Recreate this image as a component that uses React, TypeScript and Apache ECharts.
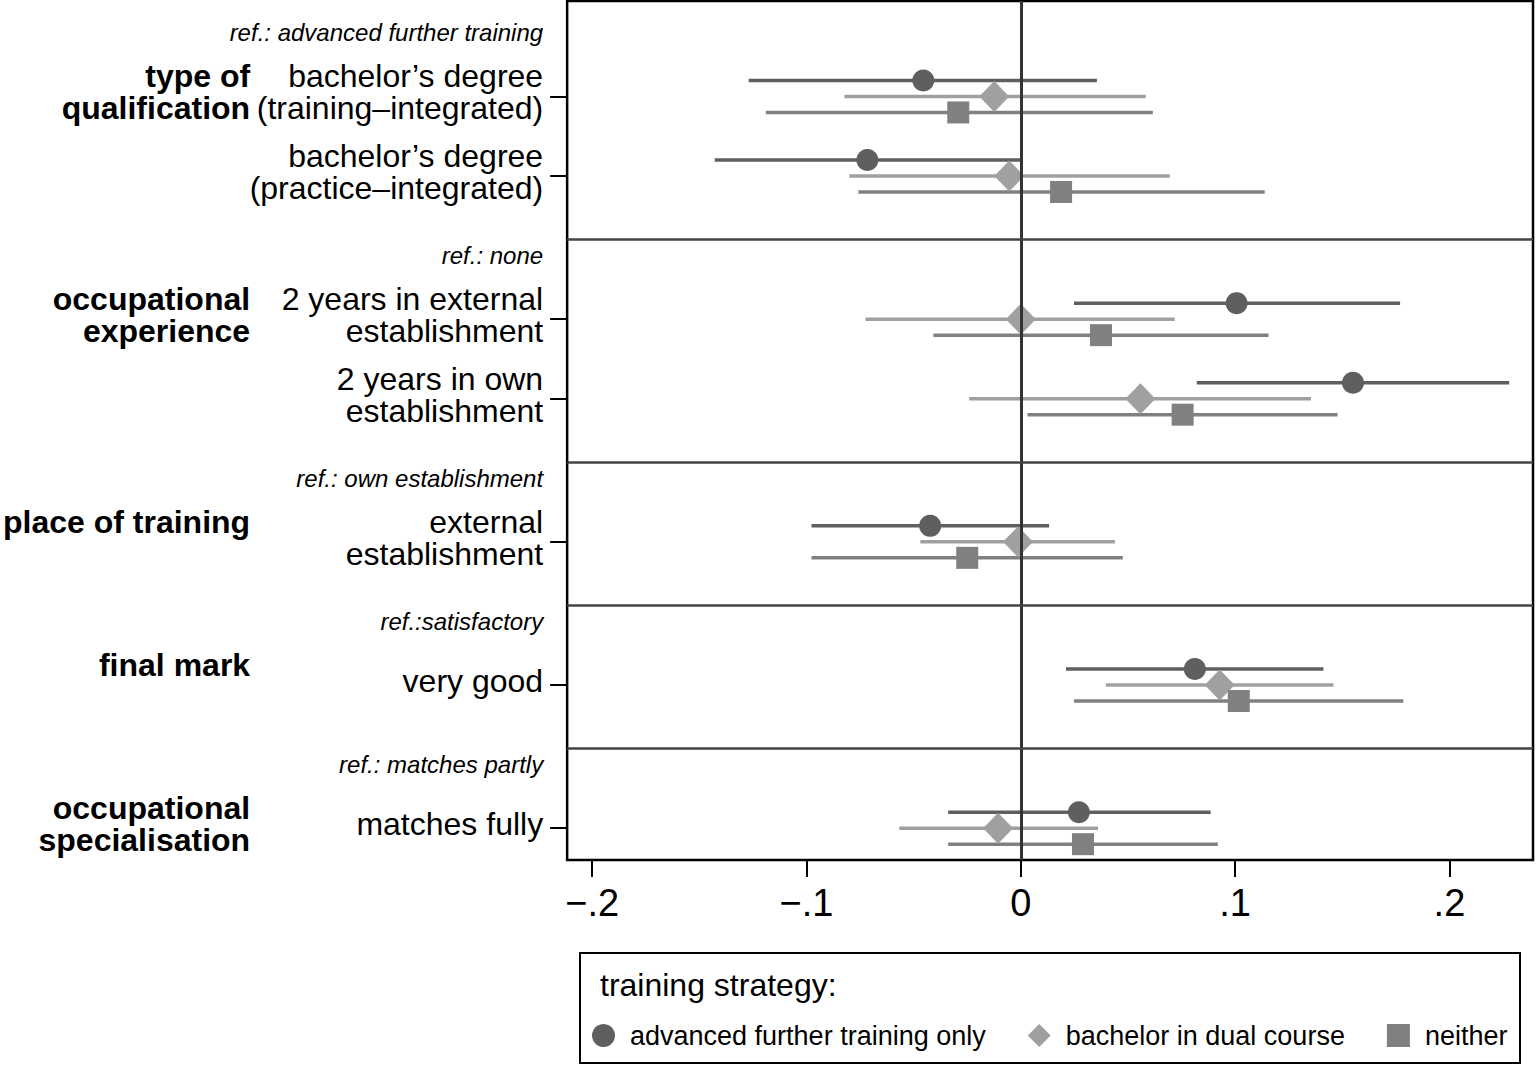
import React, { useEffect, useRef } from "react";
import * as echarts from "echarts";

const FONT = "'Liberation Sans', Arial, Helvetica, sans-serif";

// y positions (in row units) of the labelled rows, reference rows and separators
const rowLabels = [
  "bachelor’s degree\n(training–integrated)",
  "bachelor’s degree\n(practice–integrated)",
  "2 years in external\nestablishment",
  "2 years in own\nestablishment",
  "external\nestablishment",
  "very good",
  "matches fully",
];
const rowPos = [0.8, 1.8, 3.6, 4.6, 6.4, 8.2, 10.0];

const refLabels = [
  "ref.: advanced further training",
  "ref.: none",
  "ref.: own establishment",
  "ref.:satisfactory",
  "ref.: matches partly",
];
const refPos = [0, 2.8, 5.6, 7.4, 9.2];

const groupLabels = [
  "type of\nqualification",
  "occupational\nexperience",
  "place of training\n ",
  "final mark\n ",
  "occupational\nspecialisation",
];
const groupPos = [0.8, 3.6, 6.4, 8.2, 10.0];

const separatorPos = [2.6, 5.4, 7.2, 9.0];

const xTicks = [-0.2, -0.1, 0, 0.1, 0.2];

const seriesNames = ["advanced further training only", "bachelor in dual course", "neither"];

// point estimates and confidence bounds, one entry per row
const afEst = [-0.0455, -0.0716, 0.1007, 0.155, -0.0423, 0.0812, 0.0271];
const afLo = [-0.127, -0.1428, 0.0248, 0.0821, -0.0977, 0.0211, -0.0339];
const afHi = [0.0355, 0.0, 0.177, 0.2279, 0.0132, 0.1412, 0.0886];

const baEst = [-0.0124, -0.0054, 0.0, 0.0558, -0.0013, 0.0928, -0.0106];
const baLo = [-0.0823, -0.08, -0.0725, -0.0241, -0.0469, 0.0397, -0.0567];
const baHi = [0.0583, 0.0695, 0.0718, 0.1354, 0.0439, 0.1459, 0.036];

const neEst = [-0.0292, 0.0188, 0.0374, 0.0755, -0.025, 0.1017, 0.029];
const neLo = [-0.119, -0.0758, -0.0408, 0.0031, -0.0977, 0.0248, -0.0339];
const neHi = [0.0616, 0.1138, 0.1156, 0.1478, 0.0476, 0.1785, 0.0919];

const COLORS = ["#5f5f5f", "#a0a0a0", "#808080"];
const SYMBOLS = ["circle", "diamond", "rect"];
const SYMBOL_SIZES: any[] = [22, [30, 31], 22];
const OFFSETS = [-16, 0, 16];
// small upward nudge of the two-line labels (in row units) so they sit like the original
const LABEL_SHIFT = 0.05;

export default function App() {
  const ref = useRef<HTMLDivElement>(null);

  useEffect(() => {
    if (!ref.current) return;
    const chart = echarts.init(ref.current, null, { renderer: "svg" });

    const groups = [
      { est: afEst, lo: afLo, hi: afHi },
      { est: baEst, lo: baLo, hi: baHi },
      { est: neEst, lo: neLo, hi: neHi },
    ];

    const series: any[] = [];
    groups.forEach((g, s) => {
      series.push({
        name: seriesNames[s],
        type: "custom",
        encode: { x: [0, 1], y: 2 },
        itemStyle: { color: COLORS[s] },
        data: rowPos.map((y, i) => [g.lo[i], g.hi[i], y]),
        renderItem: (params: any, api: any) => {
          const p1 = api.coord([api.value(0), api.value(2)]);
          const p2 = api.coord([api.value(1), api.value(2)]);
          return {
            type: "line",
            shape: { x1: p1[0], y1: p1[1] + OFFSETS[s], x2: p2[0], y2: p2[1] + OFFSETS[s] },
            style: { stroke: COLORS[s], lineWidth: 3.5 },
          };
        },
        z: 2,
      });
      series.push({
        name: seriesNames[s],
        type: "scatter",
        symbol: SYMBOLS[s],
        symbolSize: SYMBOL_SIZES[s],
        symbolOffset: [0, OFFSETS[s]],
        itemStyle: { color: COLORS[s], opacity: 1 },
        data: rowPos.map((y, i) => [g.est[i], y]),
        z: 3,
        ...(s === 0
          ? {
              markLine: {
                silent: true,
                symbol: "none",
                label: { show: false },
                animation: false,
                data: [
                  { xAxis: 0, lineStyle: { color: "#333333", width: 3, type: "solid" } },
                  ...separatorPos.map((v) => ({
                    yAxis: v,
                    lineStyle: { color: "#444444", width: 2.5, type: "solid" },
                  })),
                ],
              },
            }
          : {}),
      });
    });

    const key = (v: number) => Math.round(v * 1000);
    const rowMap = new Map<number, string>();
    rowPos.forEach((p, i) => rowMap.set(key(p - LABEL_SHIFT), rowLabels[i]));
    const refMap = new Map<number, string>();
    refPos.forEach((p, i) => refMap.set(key(p), refLabels[i]));
    const groupMap = new Map<number, string>();
    groupPos.forEach((p, i) => groupMap.set(key(p - LABEL_SHIFT), groupLabels[i]));

    const yBase = {
      type: "value",
      min: -0.4,
      max: 10.4,
      inverse: true,
      position: "left",
      splitLine: { show: false },
      axisLine: { show: false, onZero: false },
    };

    chart.setOption({
      animation: false,
      backgroundColor: "#ffffff",
      textStyle: { fontFamily: FONT },
      grid: {
        left: 565,
        right: 3,
        top: 1,
        bottom: 206,
        show: true,
        borderColor: "#000000",
        borderWidth: 2.5,
        backgroundColor: "#ffffff",
      },
      xAxis: {
        type: "value",
        min: -0.2117,
        max: 0.239,
        splitLine: { show: false },
        axisLine: { show: false, onZero: false },
        axisTick: {
          show: true,
          length: 17,
          inside: false,
          customValues: xTicks,
          lineStyle: { color: "#000000", width: 2 },
        },
        axisLabel: {
          customValues: xTicks,
          margin: 24,
          fontSize: 38,
          color: "#000000",
          fontFamily: FONT,
          formatter: (v: number) =>
            Math.abs(v) < 1e-9 ? "0" : (v < 0 ? "−" : "") + "." + Math.round(Math.abs(v) * 10),
        },
      },
      yAxis: [
        {
          ...yBase,
          axisTick: {
            show: true,
            length: 17,
            inside: false,
            customValues: rowPos,
            lineStyle: { color: "#000000", width: 2 },
          },
          axisLabel: {
            customValues: rowPos.map((p) => p - LABEL_SHIFT),
            margin: 24,
            fontSize: 32,
            lineHeight: 32,
            color: "#000000",
            fontFamily: FONT,
            align: "right",
            formatter: (v: number) => rowMap.get(key(v)) ?? "",
          },
        },
        {
          ...yBase,
          axisTick: { show: false },
          axisLabel: {
            customValues: refPos,
            margin: 24,
            fontSize: 24,
            fontStyle: "italic",
            color: "#000000",
            fontFamily: FONT,
            align: "right",
            formatter: (v: number) => refMap.get(key(v)) ?? "",
          },
        },
        {
          ...yBase,
          axisTick: { show: false },
          axisLabel: {
            customValues: groupPos.map((p) => p - LABEL_SHIFT),
            margin: 317,
            fontSize: 32,
            lineHeight: 32,
            fontWeight: "bold",
            color: "#000000",
            fontFamily: FONT,
            align: "right",
            formatter: (v: number) => groupMap.get(key(v)) ?? "",
          },
        },
      ],
      legend: {
        left: 592,
        top: 1022,
        orient: "horizontal",
        itemWidth: 23,
        itemHeight: 23,
        itemGap: 42,
        padding: 0,
        selectedMode: false,
        textStyle: { fontSize: 27, color: "#000000", fontFamily: FONT, padding: [0, 0, 0, 10] },
        data: seriesNames.map((n, i) => ({
          name: n,
          icon: SYMBOLS[i],
          itemStyle: { color: COLORS[i] },
        })),
      },
      graphic: [
        {
          type: "rect",
          shape: { x: 580, y: 953, width: 940, height: 110 },
          style: { fill: "none", stroke: "#000000", lineWidth: 2 },
          z: 0,
        },
        {
          type: "text",
          x: 600,
          y: 985,
          style: {
            text: "training strategy:",
            font: "32px " + FONT,
            fill: "#000000",
            textVerticalAlign: "middle",
          },
        },
      ],
      series,
    });

    return () => chart.dispose();
  }, []);

  return (
    <div
      ref={ref}
      style={{ position: "absolute", left: 0, top: 0, width: 1536, height: 1066 }}
    />
  );
}
